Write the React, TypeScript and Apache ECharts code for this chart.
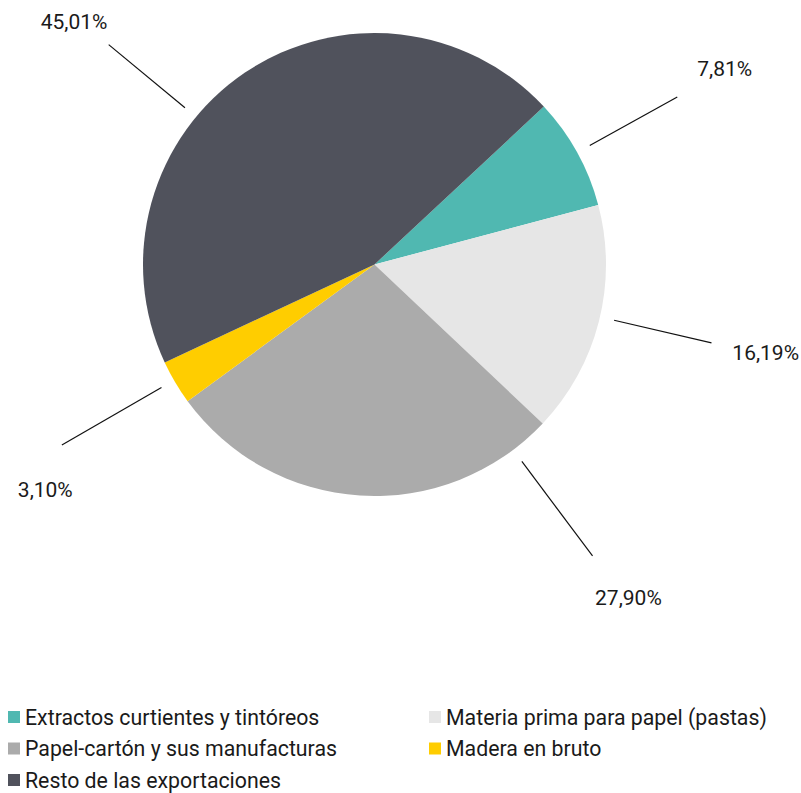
import React, { useEffect, useRef } from "react";
import * as echarts from "echarts";

const categories = [
  "Extractos curtientes y tintóreos",
  "Materia prima para papel (pastas)",
  "Papel-cartón y sus manufacturas",
  "Madera en bruto",
  "Resto de las exportaciones",
];
const values = [7.81, 16.19, 27.9, 3.1, 45.01];
const colors = ["#50b8b1", "#e6e6e6", "#ababab", "#ffcd00", "#50525c"];
const legendLeft = [categories[0], categories[2], categories[4]];
const legendRight = [categories[1], categories[3]];

// label placement (polar, relative to pie centre): line angle, line end radius, label angle, label radius
const lineAngle = [28.95, -13.1, -53.2, -150.0, 140.4];
const lineEndR = [346, 346, 364, 361, 345];
const labelAngle = [29.15, -12.7, -52.7, -145.6, 141.1];
const labelR = [401, 401, 419, 399, 386];

const CX = 374.5;
const CY = 264.5;
const R = 231.5;
const LINE_START_R = 246;

function polar(angleDeg: number, r: number): [number, number] {
  const a = (angleDeg * Math.PI) / 180;
  return [CX + r * Math.cos(a), CY - r * Math.sin(a)];
}

export default function App() {
  const ref = useRef<HTMLDivElement>(null);
  useEffect(() => {
    if (!ref.current) return;
    const chart = echarts.init(ref.current, null, { renderer: "svg" });
    const textColor = "#1a1a1a";
    const legendText = { fontFamily: "Roboto", fontSize: 21.3, lineHeight: 21, color: textColor };
    chart.setOption({
      animation: false,
      backgroundColor: "#ffffff",
      legend: [
        {
          orient: "vertical",
          left: 8,
          top: 706.5,
          padding: 0,
          itemWidth: 12,
          itemHeight: 12,
          itemGap: 10.5,
          icon: "rect",
          data: legendLeft,
          textStyle: legendText,
        },
        {
          orient: "vertical",
          left: 429,
          top: 706.5,
          padding: 0,
          itemWidth: 12,
          itemHeight: 12,
          itemGap: 10.5,
          icon: "rect",
          data: legendRight,
          textStyle: legendText,
        },
      ],
      series: [
        {
          type: "pie",
          center: [CX, CY],
          radius: [0, R],
          startAngle: 43,
          clockwise: true,
          avoidLabelOverlap: false,
          data: categories.map((name, i) => ({
            name,
            value: values[i],
            itemStyle: { color: colors[i] },
          })),
          label: {
            show: true,
            position: "outside",
            fontFamily: "Roboto",
            fontSize: 21,
            color: textColor,
            formatter: (p: any) => p.value.toFixed(2).replace(".", ",") + "%",
          },
          labelLine: {
            show: true,
            length: 20,
            length2: 0,
            lineStyle: { color: "#111111", width: 1.2 },
          },
          labelLayout: (params: any) => {
            const i = params.dataIndex;
            const p1 = polar(lineAngle[i], LINE_START_R);
            const p2 = polar(lineAngle[i], lineEndR[i]);
            const lp = polar(labelAngle[i], labelR[i]);
            return {
              x: lp[0],
              y: lp[1],
              align: "center",
              verticalAlign: "middle",
              labelLinePoints: [p1, p2, p2],
            };
          },
          emphasis: { disabled: true },
        },
      ],
    });
    return () => chart.dispose();
  }, []);
  return (
    <div
      ref={ref}
      style={{ position: "absolute", left: 0, top: 0, width: 801, height: 793 }}
    />
  );
}
